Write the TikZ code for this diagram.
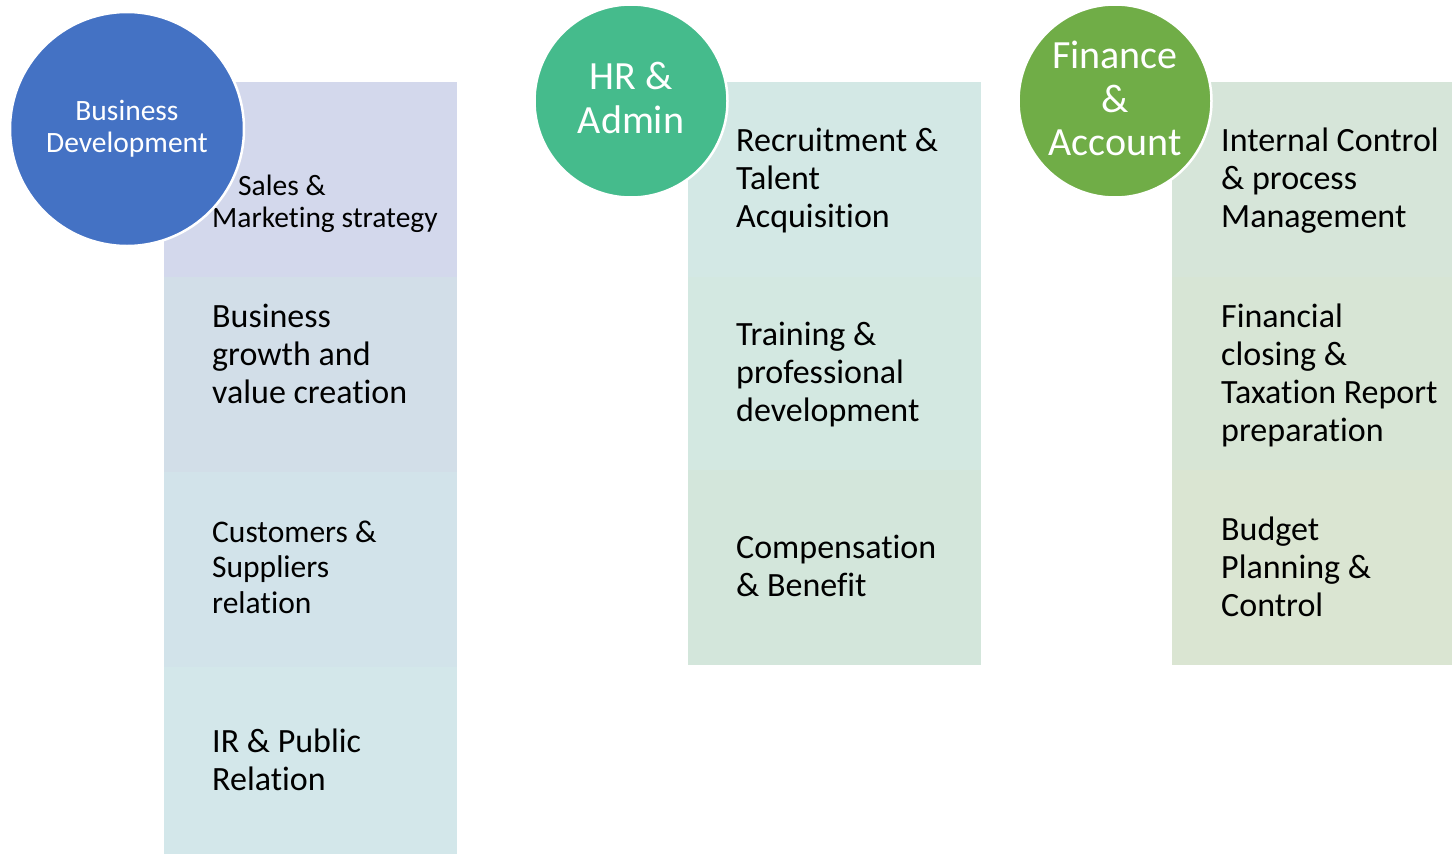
\documentclass[tikz,border=0pt]{standalone}
\usepackage{fontspec}
\setmainfont[RawFeature=-liga]{Carlito}
\definecolor{cBlue}{RGB}{68,114,196}
\definecolor{cTeal}{RGB}{69,187,140}
\definecolor{cGreen}{RGB}{112,173,71}
\definecolor{a1}{RGB}{211,216,236}
\definecolor{a2}{RGB}{210,222,232}
\definecolor{a3}{RGB}{210,227,234}
\definecolor{a4}{RGB}{211,231,234}
\definecolor{b1}{RGB}{211,232,229}
\definecolor{b2}{RGB}{211,232,225}
\definecolor{b3}{RGB}{211,230,219}
\definecolor{c1}{RGB}{214,229,217}
\definecolor{c2}{RGB}{215,229,213}
\definecolor{c3}{RGB}{218,229,210}
\tikzset{
  item/.style={anchor=west, align=left, inner sep=0pt, text=black},
  head/.style={circle, draw=white, line width=2.5pt, text=white, align=center, inner sep=0pt},
}
\begin{document}
\begin{tikzpicture}[x=1pt,y=-1pt]
\useasboundingbox (0,0) rectangle (1452,854);
% column 1
\fill[a1] (164,82) rectangle (457,277);
\fill[a2] (164,277) rectangle (457,472);
\fill[a3] (164,472) rectangle (457,667);
\fill[a4] (164,667) rectangle (457,854);
% column 2
\fill[b1] (688,82) rectangle (981,277);
\fill[b2] (688,277) rectangle (981,470);
\fill[b3] (688,470) rectangle (981,665);
% column 3
\fill[c1] (1172,82) rectangle (1452,277);
\fill[c2] (1172,277) rectangle (1452,470);
\fill[c3] (1172,470) rectangle (1452,665);

% texts column 1
\node[item, font=\fontsize{29.5}{32}\selectfont] (t11) at (212,204) {\hspace*{26pt}Sales \&\\Marketing strategy};
\node[item, font=\fontsize{34}{38}\selectfont] (t12) at (212,354) {Business\\growth and\\value creation};
\node[item, font=\fontsize{31.5}{35.5}\selectfont] (t13) at (212,567) {Customers \&\\Suppliers\\relation};
\node[item, font=\fontsize{34}{38}\selectfont] (t14) at (212,760) {IR \& Public\\Relation};
% texts column 2
\node[item, font=\fontsize{34}{38}\selectfont] (t21) at (736,181) {Recruitment \&\\Talent\\Acquisition};
\node[item, font=\fontsize{34}{38}\selectfont] (t22) at (736,375) {Training \&\\professional\\development};
\node[item, font=\fontsize{34}{38}\selectfont] (t23) at (736,566) {Compensation\\\& Benefit};
% texts column 3
\node[item, font=\fontsize{34}{38}\selectfont] (t31) at (1221,181) {Internal Control\\\& process\\Management};
\node[item, font=\fontsize{34}{38}\selectfont] (t32) at (1221,375) {Financial\\closing \&\\Taxation Report\\preparation};
\node[item, font=\fontsize{34}{38}\selectfont] (t33) at (1221,567) {Budget\\Planning \&\\Control};

% header circles
\node[head, fill=cBlue, minimum size=234pt, font=\fontsize{29.5}{32}\selectfont] (h1) at (127,129) {Business\\Development};
\node[head, fill=cTeal, minimum size=193pt, font=\fontsize{40}{44}\selectfont] (h2) at (631,101) {HR \&\\Admin\rule[-6pt]{0pt}{0pt}};
\node[head, fill=cGreen, minimum size=193pt, font=\fontsize{40}{43.5}\selectfont] (h3) at (1115,101) {Finance\\\&\\Account\rule[-5pt]{0pt}{0pt}};
\end{tikzpicture}
\end{document}
